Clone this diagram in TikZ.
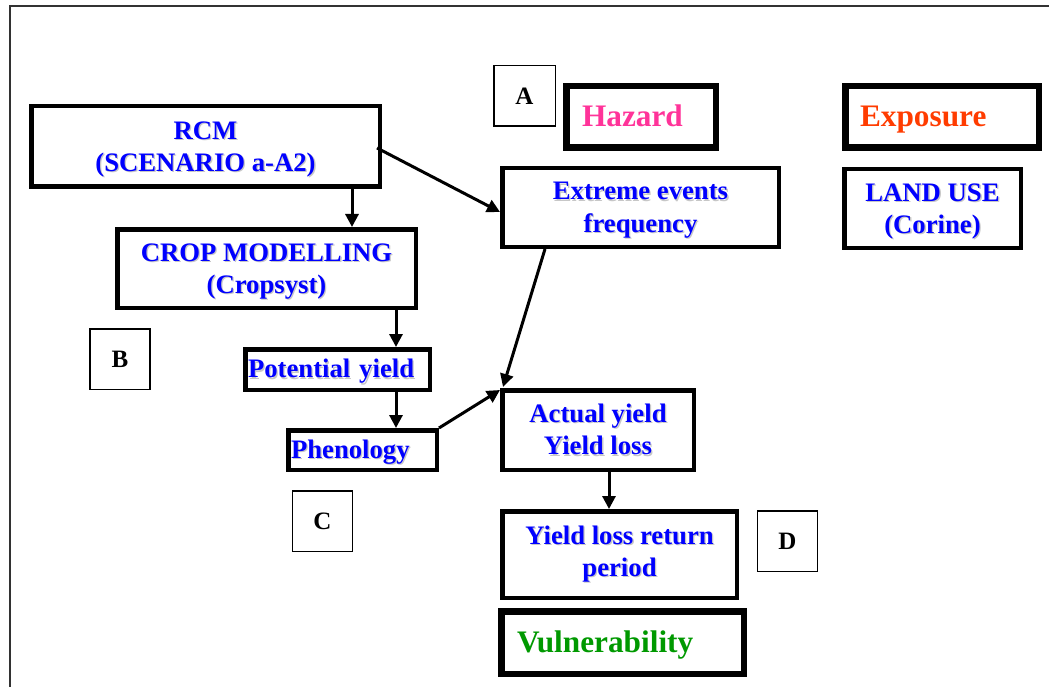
\documentclass[tikz,border=0pt]{standalone}
\usepackage{fontspec}
\setmainfont{Liberation Serif}
\usetikzlibrary{arrows.meta,calc}
\definecolor{txtblue}{RGB}{0,0,255}
\definecolor{hazpink}{RGB}{255,51,153}
\definecolor{exporange}{RGB}{255,60,0}
\definecolor{vulgreen}{RGB}{0,153,0}
\definecolor{framegray}{RGB}{50,50,50}
\newcommand\shtxt[1]{\leavevmode\rlap{\kern1.3pt\raisebox{-1.3pt}{\textcolor{black!22}{#1}}}#1}
\begin{document}
\begin{tikzpicture}[x=1pt,y=-1pt,
  mbox/.style={draw=black, line width=4.5pt, fill=white, inner sep=0pt, align=center, text=txtblue, font=\bfseries\fontsize{26.7}{32.5}\selectfont},
  lowtext/.style={text depth=-2pt},
  hbox/.style={draw=black, line width=6.5pt, fill=white, inner sep=0pt, align=left, text height=21pt, text depth=1pt, font=\bfseries\fontsize{31.3}{36}\selectfont},
  lbox/.style={draw=black, line width=1.5pt, fill=white, inner sep=0pt, minimum width=60pt, minimum height=60.5pt, font=\bfseries\fontsize{25}{30}\selectfont},
  arr/.style={line width=3pt, -{Triangle[length=13pt,width=13pt]}},
]
\useasboundingbox (0,0) rectangle (1049,687);
\draw[framegray, line width=2pt] (10,700) -- (10,6) -- (1060,6);

\node[mbox, lowtext, minimum width=348.5pt, minimum height=80.5pt] (rcm) at (205.5,146.5) {\shtxt{RCM}\\\shtxt{(SCENARIO a-A2)}};
\node[hbox, text=hazpink, minimum width=149.5pt, minimum height=61.5pt, text width=118pt, inner xsep=15.75pt] (hazard) at (641,117) {Hazard};
\node[lbox, minimum width=61.5pt] (la) at (524.5,96) {A};
\node[mbox, lowtext, minimum width=276.5pt, minimum height=78.5pt] (extreme) at (640.5,207.5) {\shtxt{Extreme events}\\\shtxt{frequency}};
\node[hbox, text=exporange, minimum width=193.5pt, minimum height=61.5pt, text width=164pt, inner xsep=14.75pt] (exposure) at (942,117) {Exposure};
\node[mbox, lowtext, minimum width=176.5pt, minimum height=78.5pt] (landuse) at (932.5,208.5) {\shtxt{LAND USE}\\\shtxt{(Corine)}};
\node[mbox, lowtext, minimum width=298.5pt, minimum height=78.5pt] (crop) at (266.5,268.5) {\shtxt{CROP MODELLING}\\\shtxt{(Cropsyst)}};
\node[lbox] (lb) at (120,359) {B};
\node[mbox, text depth=2pt, minimum width=184.5pt, minimum height=40.5pt, text width=179pt, inner xsep=2.75pt, align=left] (potential) at (337.5,369.5) {\shtxt{Potential yield}};
\node[mbox, text depth=2pt, minimum width=148.5pt, minimum height=39.5pt, text width=143pt, inner xsep=2.75pt, align=left] (phenology) at (362.5,450) {\shtxt{Phenology}};
\node[lbox] (lc) at (322.5,521) {C};
\node[mbox, minimum width=191.5pt, minimum height=79.5pt] (actual) at (598,430) {\shtxt{Actual yield}\\\shtxt{Yield loss}};
\node[mbox, minimum width=234.5pt, minimum height=86.5pt] (yieldloss) at (619.5,554.5) {\shtxt{Yield loss return}\\\shtxt{period}};
\node[lbox] (ld) at (787.5,541) {D};
\node[hbox, text=vulgreen, minimum width=242.5pt, minimum height=62.5pt, text width=211pt, inner xsep=15.75pt] (vuln) at (622.5,642.5) {Vulnerability};

\coordinate (x1) at (352,0);
\coordinate (x2) at (396,0);
\coordinate (x3) at (545,0);
\coordinate (x4) at (609,0);
\draw[arr] (rcm.south -| x1) -- (crop.north -| x1);
\draw[arr] ($(rcm.east)+(-5,1.5)$) -- ($(extreme.west)+(0,4.5)$);
\draw[arr] (crop.south -| x2) -- (potential.north -| x2);
\draw[arr] (potential.south -| x2) -- (phenology.north -| x2);
\draw[arr] (extreme.south -| x3) -- ($(actual.north west)+(3,-1)$);
\draw[arr] (phenology.north east) -- ($(actual.north west)+(0,2)$);
\draw[arr] (actual.south -| x4) -- (yieldloss.north -| x4);
\end{tikzpicture}
\end{document}
